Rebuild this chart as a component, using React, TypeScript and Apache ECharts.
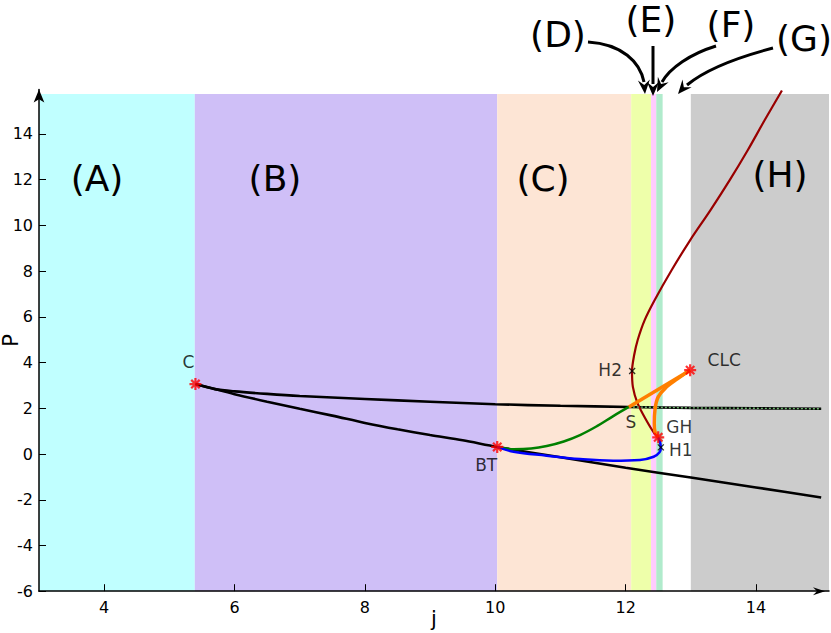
import React, { useEffect, useRef } from "react";
import * as echarts from "echarts";

// ---- data ----
const bandEdges = [3, 5.39, 10.03, 12.085, 12.39, 12.47, 12.57, 13.0, 15.12];
const bandColors = ["#c0ffff", "#cfbff7", "#fde5d5", "#eeffaa", "#ffccff", "#b0ebcc", "#ffffff", "#cccccc"];
const bandTop = 15.75;
const xTicks = [4, 6, 8, 10, 12, 14];
const yTicks = [-6, -4, -2, 0, 2, 4, 6, 8, 10, 12, 14];

const upperBranch: [number, number][] = [
  [5.4, 3.06], [5.7, 2.84], [6.0, 2.74], [6.5, 2.63], [7.0, 2.54], [8.0, 2.41], [9.0, 2.29],
  [10.0, 2.18], [11.0, 2.11], [12.05, 2.06], [13.0, 2.02], [14.0, 2.0], [15.0, 1.98],
];
const upperDotted: [number, number][] = [
  [12.05, 2.06], [13.0, 2.02], [14.0, 2.0], [15.0, 1.98],
];
const lowerBranch: [number, number][] = [
  [5.4, 3.06], [6.0, 2.62], [6.5, 2.29], [7.0, 1.98], [7.5, 1.68], [8.0, 1.36], [8.5, 1.08],
  [9.0, 0.83], [9.5, 0.6], [10.03, 0.31], [11.0, -0.14], [12.0, -0.6], [13.0, -1.03],
  [14.0, -1.46], [15.0, -1.9],
];
const greenCurve: [number, number][] = [
  [10.03, 0.31], [10.28, 0.21], [10.55, 0.24], [10.79, 0.35], [11.05, 0.55], [11.3, 0.83],
  [11.56, 1.22], [11.81, 1.66], [12.05, 2.06],
];
const blueCurve: [number, number][] = [
  [10.03, 0.31], [10.28, 0.1], [10.79, -0.07], [11.3, -0.22], [11.81, -0.29], [12.22, -0.26],
  [12.43, -0.12], [12.52, 0.08], [12.54, 0.29], [12.5, 0.73],
];
const redCurve: [number, number][] = [
  [14.398, 15.9], [14.134, 14.61], [13.875, 13.3], [13.599, 11.99], [13.302, 10.67], [12.991, 9.36],
  [12.707, 8.05], [12.446, 6.74], [12.292, 5.86], [12.185, 4.99], [12.131, 4.33], [12.098, 3.63],
  [12.111, 2.94], [12.182, 2.23], [12.315, 1.49], [12.438, 0.92], [12.505, 0.73],
];
const orangeUpper: [number, number][] = [[12.05, 2.06], [12.99, 3.67]];
const orangeLower: [number, number][] = [
  [12.99, 3.67], [12.8, 3.3], [12.63, 2.94], [12.5, 2.5], [12.45, 1.92], [12.44, 1.34], [12.45, 0.98], [12.5, 0.73],
];
const starPoints = [
  { name: "C", value: [5.4, 3.06], offset: [-7, -22] },
  { name: "BT", value: [10.03, 0.31], offset: [-11, 18] },
  { name: "GH", value: [12.5, 0.73], offset: [21, -10] },
  { name: "CLC", value: [12.99, 3.67], offset: [34, -10] },
];
const crossPoints = [
  { name: "H2", value: [12.1, 3.63], offset: [-22, -1] },
  { name: "H1", value: [12.54, 0.29], offset: [20, 3] },
];
const sPoint = { name: "S", value: [12.05, 2.06], offset: [2, 15] };

const regionLabels = [
  { text: "(A)", x: 97, y: 178 },
  { text: "(B)", x: 275, y: 178 },
  { text: "(C)", x: 543, y: 178 },
  { text: "(H)", x: 780, y: 174 },
  { text: "(D)", x: 558, y: 34 },
  { text: "(E)", x: 651, y: 19 },
  { text: "(F)", x: 731, y: 24 },
  { text: "(G)", x: 804, y: 38 },
];

const FONT = "DejaVu Sans";
const STAR = "path://M10,0 L10,20 M0,10 L20,10 M3,3 L17,17 M3,17 L17,3";
const CROSS = "path://M0,0 L10,10 M0,10 L10,0";

function arrowHead(tx: number, ty: number, angle: number, L = 14, W = 6, N = 9) {
  const cos = Math.cos(angle), sin = Math.sin(angle);
  const pt = (back: number, side: number) => [tx - back * cos - side * sin, ty - back * sin + side * cos];
  return {
    type: "polygon",
    shape: { points: [[tx, ty], pt(L, W), pt(N, 0), pt(L, -W)] },
    style: { fill: "#000" },
    z: 10,
  };
}

function lineSeries(data: [number, number][], color: string, width: number, smooth: number | boolean = 0.3, z = 3) {
  return {
    type: "line",
    data,
    smooth,
    symbol: "none",
    lineStyle: { color, width },
    silent: true,
    z,
  };
}

export default function App() {
  const ref = useRef<HTMLDivElement>(null);
  useEffect(() => {
    if (!ref.current) return;
    const chart = echarts.init(ref.current, undefined, { renderer: "svg" });
    const bands = bandColors.map((c, i) => [
      { xAxis: bandEdges[i], yAxis: -6, itemStyle: { color: c } },
      { xAxis: bandEdges[i + 1], yAxis: bandTop },
    ]);
    const graphics: any[] = regionLabels.map((l) => ({
      type: "text",
      x: l.x,
      y: l.y,
      style: { text: l.text, font: `36px '${FONT}'`, fill: "#000", align: "center", verticalAlign: "middle" },
      z: 10,
    }));
    const arrowStroke = { stroke: "#000", lineWidth: 3, fill: "none" };
    graphics.push(
      { type: "bezierCurve", shape: { x1: 588, y1: 42, cpx1: 622, cpy1: 44, cpx2: 640, cpy2: 62, x2: 644, y2: 82 }, style: arrowStroke, z: 10 },
      arrowHead(645, 94, Math.atan2(1, 0.08)),
      { type: "line", shape: { x1: 653, y1: 46, x2: 653, y2: 84 }, style: arrowStroke, z: 10 },
      arrowHead(653, 96, Math.PI / 2),
      { type: "bezierCurve", shape: { x1: 716, y1: 46, cpx1: 690, cpy1: 54, cpx2: 670, cpy2: 68, x2: 662, y2: 82 }, style: arrowStroke, z: 10 },
      arrowHead(657, 92, Math.atan2(1, -0.5)),
      { type: "bezierCurve", shape: { x1: 773, y1: 48, cpx1: 735, cpy1: 58, cpx2: 705, cpy2: 70, x2: 687, y2: 85 }, style: arrowStroke, z: 10 },
      arrowHead(678, 94, Math.atan2(1, -0.85)),
      // x-axis arrowhead
      arrowHead(825, 591.2, 0, 12, 4, 8)
    );

    const labelStyle = (off: number[]) => ({
      show: true,
      formatter: "{b}",
      position: "inside",
      offset: off,
      fontFamily: FONT,
      fontSize: 17,
      color: "#000",
    });

    chart.setOption({
      animation: false,
      grid: { left: 39, right: 2, top: 89.4, bottom: 41.8, containLabel: false, outerBoundsMode: "none" },
      xAxis: {
        type: "value",
        min: 3,
        max: 15.12,
        z: 10,
        name: "j",
        nameLocation: "middle",
        nameGap: 28,
        nameMoveOverlap: false,
        nameTextStyle: { fontFamily: FONT, fontSize: 21, color: "#000", verticalAlign: "middle" },
        splitLine: { show: false },
        axisLine: { show: true, onZero: false, lineStyle: { color: "#000", width: 1.5 }, symbol: "none" },
        axisTick: { show: true, inside: true, length: 7, lineStyle: { color: "#000" }, customValues: xTicks },
        axisLabel: { fontFamily: FONT, fontSize: 16, color: "#000", margin: 8, customValues: xTicks },
      },
      yAxis: {
        type: "value",
        min: -6,
        max: 15.95,
        z: 10,
        name: "P",
        nameLocation: "middle",
        nameGap: 18,
        nameMoveOverlap: false,
        nameRotate: 90,
        nameTextStyle: { fontFamily: FONT, fontSize: 21, color: "#000" },
        splitLine: { show: false },
        axisLine: { show: true, onZero: false, lineStyle: { color: "#000", width: 1.5 }, symbol: ["none", "arrow"], symbolSize: [8, 13], symbolOffset: [0, 0] },
        axisTick: { show: true, inside: true, length: 7, lineStyle: { color: "#000" }, customValues: yTicks },
        axisLabel: { fontFamily: FONT, fontSize: 16, color: "#000", margin: 6, customValues: yTicks },
      },
      series: [
        {
          type: "line",
          data: [],
          silent: true,
          z: 1,
          markArea: { silent: true, data: bands, itemStyle: { opacity: 1 } },
        },
        lineSeries(upperBranch, "#000", 2.6, 0.3),
        { ...lineSeries(upperDotted, "#6db36d", 1.4, false, 4), lineStyle: { color: "#6db36d", width: 1.4, type: [2, 2] } },
        lineSeries(lowerBranch, "#000", 2.6, 0.3),
        lineSeries(greenCurve, "#008000", 2.5, 0.4),
        lineSeries(blueCurve, "#0000ff", 2.5, 0.4),
        lineSeries(redCurve, "#990000", 2.2, 0.3),
        lineSeries(orangeUpper, "#ff7f00", 3.5, false, 5),
        lineSeries(orangeLower, "#ff7f00", 3.5, 0.4, 5),
        {
          type: "scatter",
          data: starPoints.map((p) => ({ name: p.name, value: p.value, label: labelStyle(p.offset) })),
          symbol: STAR,
          symbolSize: 12,
          itemStyle: { color: "transparent", borderColor: "#ff0000", borderWidth: 2.2 },
          silent: true,
          z: 8,
        },
        {
          type: "scatter",
          data: crossPoints.map((p) => ({ name: p.name, value: p.value, label: labelStyle(p.offset) })),
          symbol: CROSS,
          symbolSize: 6,
          itemStyle: { color: "transparent", borderColor: "#000", borderWidth: 1.3 },
          silent: true,
          z: 8,
        },
        {
          type: "scatter",
          data: [{ name: sPoint.name, value: sPoint.value, label: labelStyle(sPoint.offset) }],
          symbol: "circle",
          symbolSize: 1,
          itemStyle: { color: "rgba(0,0,0,0)" },
          silent: true,
          z: 8,
        },
      ],
      graphic: graphics,
    });
    return () => chart.dispose();
  }, []);
  return <div ref={ref} style={{ position: "absolute", left: 0, top: 0, width: 831, height: 633, background: "#fff" }} />;
}
